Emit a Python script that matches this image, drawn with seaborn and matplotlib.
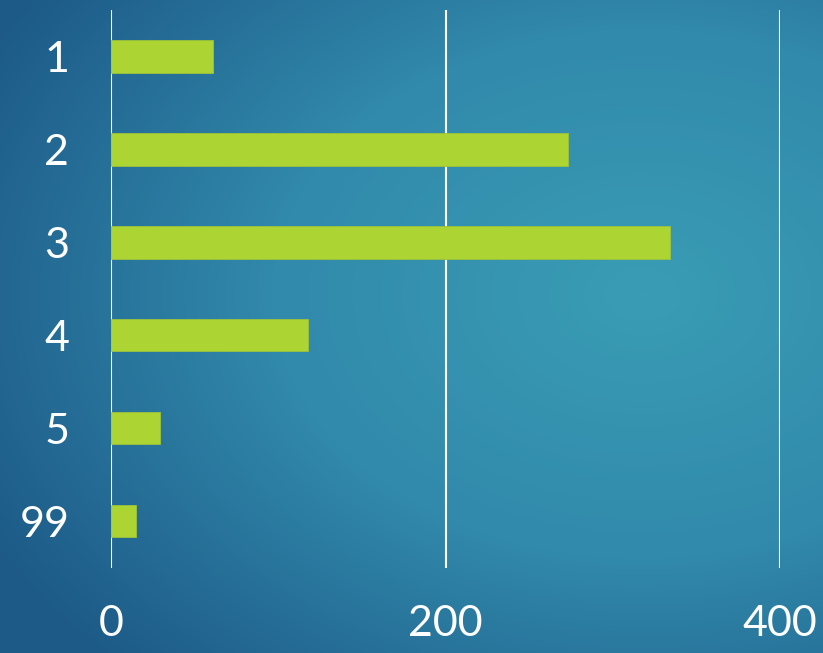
import numpy as np
import pandas as pd
import matplotlib
matplotlib.use("Agg")
import matplotlib.pyplot as plt
from matplotlib import font_manager
from matplotlib.colors import LinearSegmentedColormap
import seaborn as sns

categories = ["1", "2", "3", "4", "5", "99"]
counts = [61, 273, 334, 118, 29, 15]
x_ticks = [0, 200, 400]

df = pd.DataFrame({"category": categories, "count": counts})

sns.set_theme(style="white")
names = {f.name for f in font_manager.fontManager.ttflist}
family = "Lato" if "Lato" in names else "DejaVu Sans"
plt.rcParams["font.family"] = [family, "DejaVu Sans"]

W, H, DPI = 823, 653, 100
fig = plt.figure(figsize=(W / DPI, H / DPI), dpi=DPI)

# radial blue-teal backdrop
bg = fig.add_axes([0, 0, 1, 1], zorder=-10)
yy, xx = np.mgrid[0:H, 0:W]
cx, cy = 0.78 * W, 0.45 * H
r = np.sqrt(((xx - cx) / W) ** 2 + ((yy - cy) / (0.9 * H)) ** 2)
r = np.clip(r / 0.9, 0, 1)
cmap = LinearSegmentedColormap.from_list("bg", ["#3a9db5", "#3189ab", "#1d5a88"])
bg.imshow(r, cmap=cmap, aspect="auto", interpolation="bilinear")
bg.set_axis_off()

ax = fig.add_axes([111 / W, 1 - 567.5 / H, (780 - 111) / W, (567.5 - 10) / H])
ax.set_facecolor("none")
sns.barplot(data=df, x="count", y="category", order=categories, orient="h",
            color="#acd433", width=0.35, edgecolor="#9dc23a", linewidth=0.6,
            saturation=1, ax=ax, zorder=3)

ax.set_xlim(0, 400)
ax.set_ylim(len(categories) - 0.5, -0.5)
ax.set_xticks(x_ticks)
ax.set_xticklabels([str(t) for t in x_ticks])
ax.xaxis.grid(True, color="white", linewidth=1.5, zorder=1)
ax.yaxis.grid(False)
ax.set_axisbelow(True)
for s in ax.spines.values():
    s.set_visible(False)
ax.set_xlabel("")
ax.set_ylabel("")
ax.tick_params(axis="both", length=0, labelsize=31, labelcolor="white")
ax.tick_params(axis="y", pad=30)
ax.tick_params(axis="x", pad=27)

fig.savefig("out.png", dpi=DPI)
